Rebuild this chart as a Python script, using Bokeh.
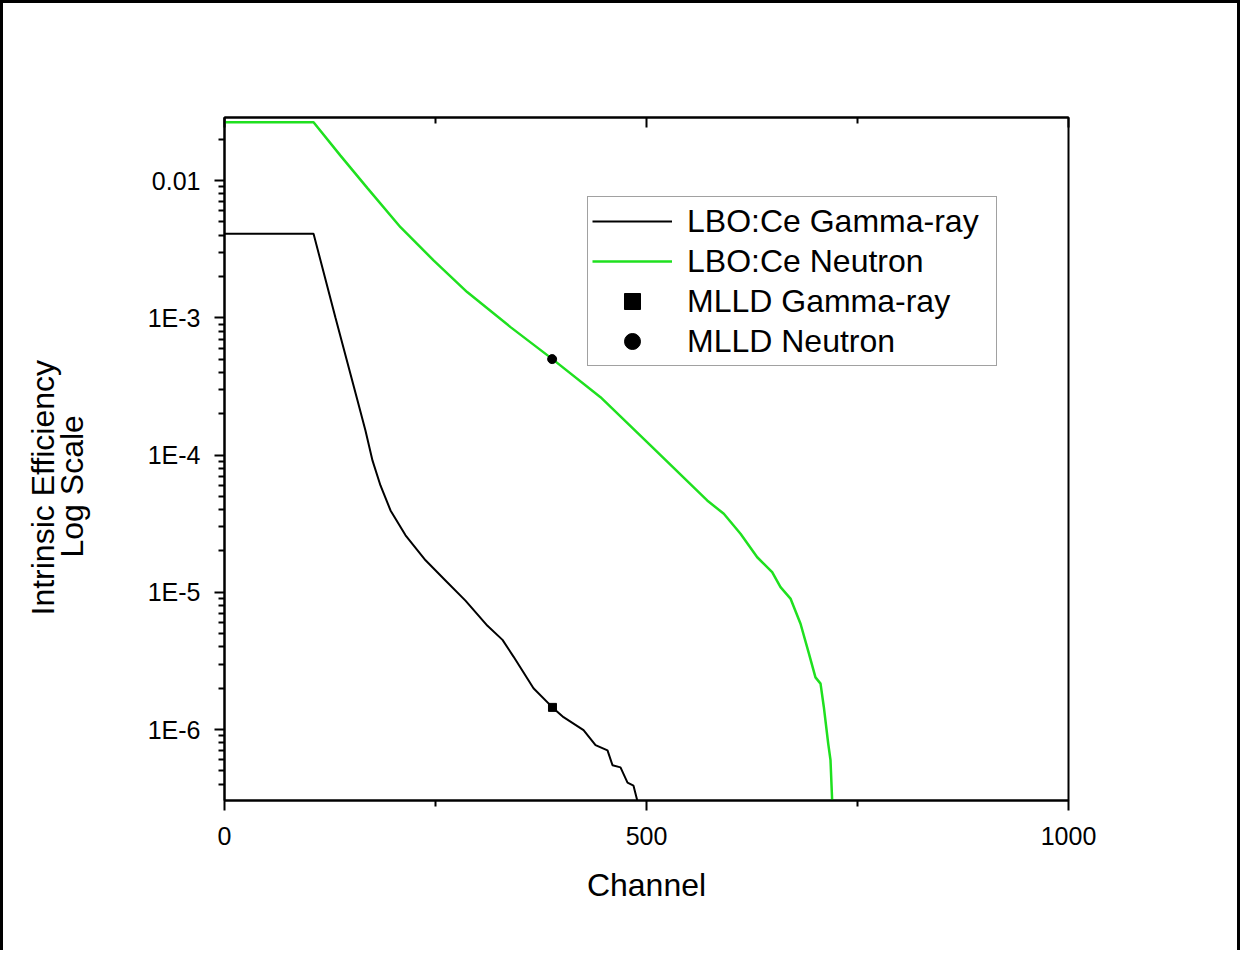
from math import pi
from bokeh.plotting import figure
from bokeh.layouts import row
from bokeh.models import (LinearAxis, FixedTicker, CustomJSTickFormatter, Label,
                          Range1d, Legend, LegendItem)
from bokeh.embed import file_html
from bokeh.resources import INLINE

# ---- data ----
gamma_channel = [0, 105.5, 131.5, 157.6, 167, 175.4, 184.8, 196.7, 214.5, 238.2, 261.8,
                 285.5, 311.6, 329.4, 342.4, 366.1, 388.6, 401.7, 425.4, 439.6, 453.8,
                 459.7, 469.2, 477.5, 484.6, 489.3, 499]
gamma_eff = [4.1e-3, 4.1e-3, 1.0e-3, 2.5e-4, 1.51e-4, 9.1e-5, 6.0e-5, 3.95e-5, 2.6e-5,
             1.71e-5, 1.22e-5, 8.7e-6, 5.7e-6, 4.5e-6, 3.4e-6, 2.0e-6, 1.45e-6, 1.23e-6,
             9.9e-7, 7.7e-7, 7.05e-7, 5.5e-7, 5.3e-7, 4.1e-7, 3.9e-7, 3.0e-7, 3.0e-7]

neutron_channel = [0, 105.5, 137.4, 169.1, 208.5, 248, 287.5, 338.9, 388.2, 445.5, 504.7,
                   571.9, 591.6, 611.4, 631.2, 648.9, 658.8, 670.6, 682.5, 692.3, 700.2,
                   706.2, 710.1, 715.3, 718, 720]
neutron_eff = [0.0266, 0.0266, 0.0152, 8.85e-3, 4.57e-3, 2.61e-3, 1.54e-3, 8.55e-4,
               5.02e-4, 2.64e-4, 1.175e-4, 4.67e-5, 3.73e-5, 2.67e-5, 1.80e-5, 1.40e-5,
               1.09e-5, 9.0e-6, 5.9e-6, 3.6e-6, 2.4e-6, 2.16e-6, 1.46e-6, 7.9e-7, 6.0e-7,
               3.0e-7]

mlld_gamma_channel = [388.6]
mlld_gamma_eff = [1.45e-6]
mlld_neutron_channel = [388.2]
mlld_neutron_eff = [5.0e-4]

x_ticks = [0, 500, 1000]
x_minor_ticks = [250, 750]
y_ticks = [1e-6, 1e-5, 1e-4, 1e-3, 1e-2]
y_tick_labels = ["1E-6", "1E-5", "1E-4", "1E-3", "0.01"]
y_minor_ticks = [k * 10.0 ** e for e in range(-7, -1) for k in range(2, 10)]

y_title_lines = ["Intrinsic Efficiency", "Log Scale"]

FONT = "Liberation Sans"
GREEN = "#1fe01f"
H = 950
W_LAB = 130
W_MAIN = 1110

# ---- narrow left panel holding the two-line y title ----
lab = figure(width=W_LAB, height=H, x_range=Range1d(0, W_LAB), y_range=Range1d(0, H),
             x_axis_type=None, y_axis_type=None, output_backend="svg",
             toolbar_location=None, min_border=0)
lab.outline_line_color = None
lab.styles = {"border-left": "3px solid black", "border-top": "3px solid black"}
for txt, lx, ly in zip(y_title_lines, [39.5, 68.7], [435, 437]):
    lab.add_layout(Label(x=lx, y=ly, text=txt, angle=pi / 2, text_align="center",
                         text_baseline="middle", text_font=FONT, text_font_size="32px",
                         text_color="black"))

# ---- main plot ----
p = figure(width=W_MAIN, height=H,
           x_range=Range1d(0, 1000), y_range=Range1d(3.04e-7, 0.0288),
           y_axis_type="log", output_backend="svg", toolbar_location=None,
           min_border_left=94, min_border_right=172, min_border_top=114,
           min_border_bottom=153)
p.styles = {"border-top": "3px solid black", "border-right": "3px solid black"}

p.xgrid.visible = False
p.ygrid.visible = False
p.outline_line_color = "black"
p.outline_line_width = 2
p.outline_line_alpha = 1

r_gamma = p.line(gamma_channel, gamma_eff, line_color="black", line_width=2)
r_neut = p.line(neutron_channel, neutron_eff, line_color=GREEN, line_width=2.5)
r_mg = p.scatter(mlld_gamma_channel, mlld_gamma_eff, marker="square", size=8,
                 fill_color="black", line_color="black")
r_mn = p.scatter(mlld_neutron_channel, mlld_neutron_eff, marker="circle", size=9,
                 fill_color="black", line_color="black")

xa = p.xaxis[0]
xa.ticker = FixedTicker(ticks=x_ticks, minor_ticks=x_minor_ticks)
xa.axis_label = "Channel"

ya = p.yaxis[0]
ya.ticker = FixedTicker(ticks=y_ticks, minor_ticks=y_minor_ticks)
ya.formatter = CustomJSTickFormatter(args=dict(t=y_ticks, l=y_tick_labels), code="""
for (let i = 0; i < t.length; i++) {
  if (Math.abs(Math.log10(tick) - Math.log10(t[i])) < 1e-6) return l[i];
}
return '';
""")

for ax in (xa, ya):
    ax.axis_line_width = 2
    ax.major_tick_line_width = 2
    ax.minor_tick_line_width = 2
    ax.major_tick_out = 10
    ax.major_tick_in = 0
    ax.minor_tick_out = 6
    ax.minor_tick_in = 0
    ax.major_label_text_font = FONT
    ax.major_label_text_font_size = "25px"
    ax.major_label_text_color = "black"
    ax.axis_label_text_font = FONT
    ax.axis_label_text_font_size = "32px"
    ax.axis_label_text_font_style = "normal"
    ax.axis_label_text_color = "black"
xa.major_label_standoff = 16
ya.major_label_standoff = 14
xa.axis_label_standoff = 19

top = LinearAxis(ticker=FixedTicker(ticks=x_ticks, minor_ticks=x_minor_ticks),
                 formatter=CustomJSTickFormatter(code="return '';"),
                 axis_line_width=2, major_tick_line_width=2, minor_tick_line_width=2,
                 major_tick_in=10, major_tick_out=0, minor_tick_in=6, minor_tick_out=0,
                 major_label_text_font_size="1px")
p.add_layout(top, "above")

legend = Legend(items=[
    LegendItem(label="LBO:Ce Gamma-ray", renderers=[r_gamma]),
    LegendItem(label="LBO:Ce Neutron", renderers=[r_neut]),
    LegendItem(label="MLLD Gamma-ray", renderers=[r_mg]),
    LegendItem(label="MLLD Neutron", renderers=[r_mn]),
], location=(363, 434))
legend.label_text_font = FONT
legend.label_text_font_size = "32px"
legend.label_text_color = "black"
legend.glyph_width = 80
legend.glyph_height = 40
legend.label_height = 40
legend.label_width = 305
legend.label_standoff = 15
legend.padding = 4
legend.spacing = 0
legend.margin = 0
legend.border_line_color = "#444444"
legend.border_line_width = 1
legend.background_fill_color = "white"
legend.background_fill_alpha = 1
p.add_layout(legend, "center")

layout = row(lab, p, spacing=0)
open("out.html", "w").write(file_html(layout, INLINE))
